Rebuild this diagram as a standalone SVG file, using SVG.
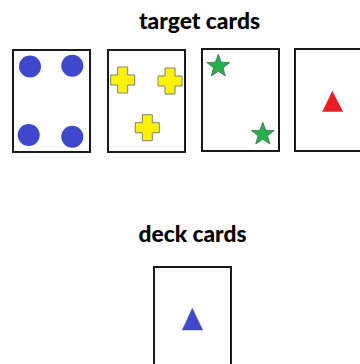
<svg xmlns="http://www.w3.org/2000/svg" xmlns:xlink="http://www.w3.org/1999/xlink" width="360" height="364" viewBox="0 0 360 364">
<style>
.card{fill:#fff;stroke:#1a1a1a;stroke-width:2}
.title{font-family:"Lato","Liberation Sans",sans-serif;font-weight:900;font-size:22px;fill:#000;text-anchor:middle}
.dot{fill:#3f48cc}
.cross{fill:#fff200;stroke:#7f7f7f;stroke-width:1}
.star{fill:#22b14c;stroke:#4a6a52;stroke-width:0.8}
</style>
<defs>
<path id="crossShape" d="M-5,-13 h10 v8 h7 v10 h-7 v8 h-10 v-8 h-7 v-10 h7 z"/>
<polygon id="starShape" points="0,-12 2.94,-4.05 11.41,-3.71 4.76,1.55 7.05,9.71 0,5 -7.05,9.71 -4.76,1.55 -11.41,-3.71 -2.94,-4.05"/>
</defs>
<text class="title" x="199.5" y="29" textLength="121" lengthAdjust="spacingAndGlyphs">target cards</text>
<text class="title" x="192.5" y="242" textLength="108" lengthAdjust="spacingAndGlyphs">deck cards</text>
<g id="card1">
<rect class="card" x="13" y="50" width="77" height="102"/>
<circle class="dot" cx="30" cy="66.5" r="11"/>
<circle class="dot" cx="72.3" cy="65.7" r="11"/>
<circle class="dot" cx="28.7" cy="135" r="11"/>
<circle class="dot" cx="72.3" cy="136.7" r="11"/>
</g>
<g id="card2">
<rect class="card" x="108" y="50" width="77" height="102"/>
<use xlink:href="#crossShape" class="cross" transform="translate(122.7,80)"/>
<use xlink:href="#crossShape" class="cross" transform="translate(170,81)"/>
<use xlink:href="#crossShape" class="cross" transform="translate(147.3,127.7)"/>
</g>
<g id="card3">
<rect class="card" x="202" y="49" width="77" height="102"/>
<use xlink:href="#starShape" class="star" transform="translate(218.3,66.3)"/>
<use xlink:href="#starShape" class="star" transform="translate(262.8,134.3)"/>
</g>
<g id="card4">
<rect class="card" x="295" y="49" width="77" height="102"/>
<polygon points="332.3,90.7 343,111.7 322.3,111.7" fill="#ed1c24"/>
</g>
<g id="deckCard">
<rect class="card" x="154" y="267" width="77" height="102"/>
<polygon points="192.3,308.3 202.7,330 182.3,330" fill="#3f48cc" stroke="#5a5f9a" stroke-width="0.6"/>
</g>
<g id="connectors"></g>
</svg>
